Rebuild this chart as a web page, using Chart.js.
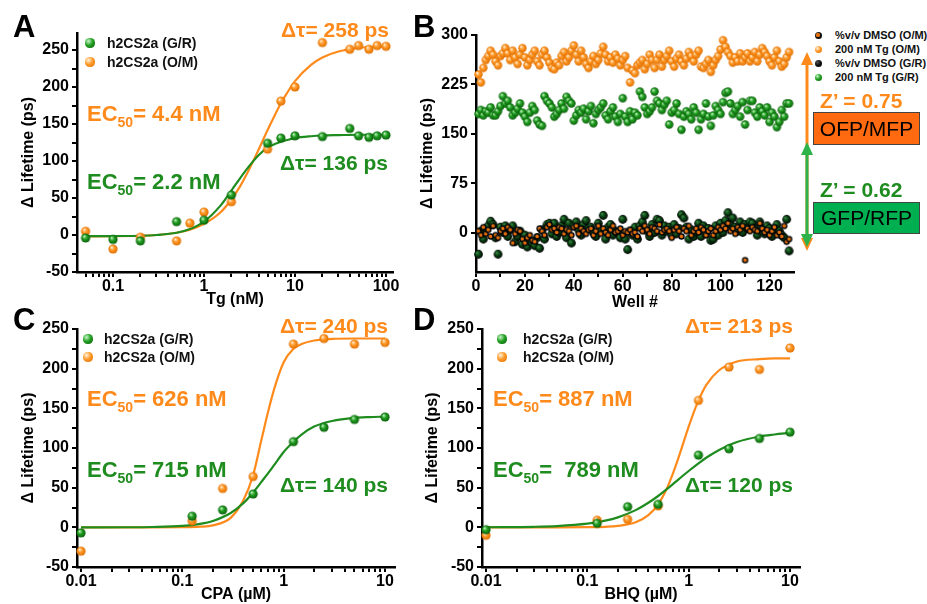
<!DOCTYPE html>
<html>
<head>
<meta charset="utf-8">
<script src="https://cdn.jsdelivr.net/npm/chart.js@4.4.1/dist/chart.umd.min.js"></script>
<style>
  body { margin: 0; background: #fff; }
  #page { position: relative; width: 927px; height: 604px; overflow: hidden; font-family: "Liberation Sans", Arial, sans-serif; }
  canvas { position: absolute; }
  .t { position: absolute; white-space: nowrap; line-height: 1; font-weight: bold; }
  .t sub { font-size: 14px; line-height: 0; vertical-align: -6px; }
  .big { font-size: 31px; color: #000; }
  .ann { font-size: 21px; }
  .ec { font-size: 22px; }
  .leg { font-size: 14px; color: #111; }
  .bleg { font-size: 11px; color: #111; }
  .dot { position: absolute; border-radius: 50%; }
  .box { position: absolute; border: 1.5px solid #444; font-size: 21px; color: #000; text-align: center; }
</style>
</head>
<body>
<div id="page">
  <canvas id="cA" width="410" height="312" style="left:0;top:0"></canvas>
  <canvas id="cB" width="400" height="313" style="left:410px;top:0"></canvas>
  <canvas id="cC" width="410" height="304" style="left:0;top:300px"></canvas>
  <canvas id="cD" width="400" height="304" style="left:420px;top:300px"></canvas>
  <div id="notes"></div>
</div>
<script>
// ---- panel A: Tg dose response (nM)
const tgConcG = [0.05, 0.1, 0.2, 0.5, 1, 2, 5, 7, 10, 20, 40, 50, 65, 80, 100];
const tgLifeG = [-4, -6, -8, 18, 20, 54, 124, 131, 134, 133, 144, 134, 132, 134, 135];
const tgConcO = [0.05, 0.1, 0.2, 0.5, 0.7, 1, 2, 5, 7, 10, 20, 40, 50, 65, 80, 100];
const tgLifeO = [5, -19, -3, -8, 16, 31, 45, 116, 181, 200, 260, 251, 256, 251, 256, 255];
const tgFitX = [0.05, 0.1, 0.2, 0.3, 0.5, 0.7, 1, 1.5, 2, 2.5, 3, 4, 5, 6, 7, 8, 10, 15, 20, 30, 50, 70, 100];
const tgFitG = [-1.5, -1.4, -1, 0, 3, 8, 18, 39, 60, 77, 90, 108, 118, 123, 126, 128, 131, 133.5, 134.5, 135, 135.5, 135.5, 135.5];
const tgFitO = [-2, -1.7, -1, 0, 3, 7, 15, 30, 48, 66, 84, 116, 142, 162, 178, 190, 208, 230, 240, 248, 253, 254, 255];
const tgTicks = [0.1, 1, 10, 100];

// ---- panel B: 128-well plate
const tgOM = [240,228,250,262,268,276,270,260,254,268,
  272,280,272,262,276,266,256,270,280,266,
  254,262,270,276,260,254,270,276,266,258,
  250,248,258,254,268,274,260,266,276,284,
  270,260,276,266,256,250,260,268,256,262,
  272,282,270,260,266,258,270,264,254,262,
  268,250,228,246,242,254,258,262,248,256,
  270,262,250,262,270,252,262,268,276,260,
  252,264,270,260,254,264,274,268,260,270,
  276,252,250,256,262,244,254,262,268,278,
  292,282,274,268,258,266,260,272,260,266,
  272,260,266,274,260,270,280,274,268,260,
  254,266,276,260,252,256,266,274];
const tgGR = [180,186,178,184,182,190,178,178,184,192,207,196,200,190,178,182,
  188,196,182,176,168,182,192,186,170,164,162,207,200,196,190,176,
  180,186,196,188,206,200,196,170,178,186,182,188,172,184,192,166,
  180,186,190,196,178,172,184,190,176,168,180,204,176,168,184,172,
  182,178,214,206,190,180,184,190,214,200,196,186,194,200,164,182,
  186,196,180,156,176,184,180,172,190,182,156,172,180,196,176,162,
  178,192,186,180,198,212,214,196,180,186,192,176,198,164,186,200,
  200,182,176,190,184,178,190,168,182,176,160,168,186,176,196,196];
const dmsoGR = [-33,2,-10,6,10,17,12,-8,-33,8,0,10,-6,4,10,-14,
  -6,2,-18,-4,-22,-12,-16,-20,-8,-24,4,-10,12,14,-2,14,
  -6,0,10,20,-8,14,-16,10,16,4,-4,12,18,6,8,0,
  -6,14,4,26,-10,8,12,-4,2,0,-8,20,-10,-26,2,-4,
  8,-10,10,16,26,2,-6,12,0,20,18,-4,10,2,8,-4,
  12,-2,6,27,22,8,-10,4,-6,0,14,-6,10,-2,6,-12,
  -10,10,-4,14,0,18,30,12,22,8,2,16,0,12,6,16,
  14,6,-4,16,6,-2,10,6,-6,4,12,2,-4,-8,20,-28];
const dmsoOM = [2,-4,8,-2,4,-6,10,-4,-8,2,6,-2,8,4,-16,-2,
  4,2,-10,-16,-8,-4,-12,-14,-6,6,2,-4,8,12,4,6,
  0,8,6,-2,4,2,-4,8,10,-2,6,2,-2,4,6,-4,
  2,10,-2,6,0,-4,4,10,0,2,6,-4,2,0,4,-2,
  0,-6,6,2,10,4,-2,8,6,2,12,0,4,6,2,-8,
  4,8,2,-6,6,2,10,-4,2,6,0,8,4,-4,2,6,
  -4,2,8,4,10,6,14,2,6,-2,8,4,10,-42,6,2,
  8,4,2,14,6,0,4,-4,2,8,-4,0,-6,10,-14,-10];
const wells = tgOM.map((_, i) => i + 1);
const wellTicks = [0, 20, 40, 60, 80, 100, 120];
const plateTicks = [0, 75, 150, 225, 300];

// ---- panel C: CPA (uM)
const cpaConc = [0.01, 0.125, 0.25, 0.5, 1.25, 2.5, 5, 10];
const cpaLifeG = [-7, 14, 22, 42, 108, 126, 136, 139];
const cpaLifeO = [-30, 8, 49, 64, 231, 238, 231, 233];
const cpaFitX = [0.01, 0.03, 0.05, 0.1, 0.15, 0.2, 0.3, 0.4, 0.5, 0.6, 0.7, 0.8, 1, 1.25, 1.5, 2, 3, 5, 7, 10];
const cpaFitG = [0, 0.1, 0.4, 1.8, 4.4, 8, 18, 30.5, 44, 57, 68, 78, 95, 108, 117, 127, 134, 138, 139, 139.6];
const cpaFitO = [0, 0, 0, 0.15, 0.8, 2.5, 12, 34, 66, 109, 145, 173, 208, 225, 231, 235.5, 237.5, 238, 238, 238];

// ---- panel D: BHQ (uM)
const bhqConc = [0.01, 0.125, 0.25, 0.5, 1.25, 2.5, 5, 10];
const bhqLifeG = [-3, 5, 26, 29, 91, 99, 112, 120];
const bhqLifeO = [-10, 9, 10, 27, 160, 202, 199, 226];
const bhqFitX = [0.01, 0.03, 0.05, 0.1, 0.15, 0.2, 0.3, 0.4, 0.5, 0.6, 0.7, 0.8, 1, 1.25, 1.5, 2, 3, 5, 7, 10];
const bhqFitG = [0.1, 0.7, 1.6, 4.6, 8.4, 12.6, 21.7, 31, 39.5, 47.4, 54.4, 60.7, 71, 80.6, 88, 97.5, 107.5, 114.5, 117, 119];
const bhqFitO = [0, 0, 0, 0.2, 0.7, 1.8, 6.4, 15.4, 29, 47, 68, 89, 127, 160, 180, 198, 209, 212, 213, 213];
const uMTicks = [0.01, 0.1, 1, 10];
const lifeTicks = [-50, 0, 50, 100, 150, 200, 250];

const ORANGE = '#ff8a1c';
const GREEN = '#1e8c1e';
const FONT = '"Liberation Sans", Arial, sans-serif';
const bold = size => ({ family: FONT, size, weight: 'bold' });

function ball(r, light, mid, dark) {
  const c = document.createElement('canvas');
  const s = Math.ceil(2 * r + 2);
  c.width = c.height = s;
  const g = c.getContext('2d');
  const m = s / 2;
  const grad = g.createRadialGradient(m - r * 0.35, m - r * 0.4, r * 0.05, m, m, r);
  grad.addColorStop(0, light);
  grad.addColorStop(0.45, mid);
  grad.addColorStop(1, dark);
  g.fillStyle = grad;
  g.beginPath(); g.arc(m, m, r, 0, Math.PI * 2); g.fill();
  return c;
}
function ringBall(r) {
  const c = ball(r, '#555', '#111', '#000');
  const g = c.getContext('2d');
  g.fillStyle = '#e8700c';
  g.beginPath(); g.arc(c.width / 2, c.width / 2, r * 0.55, 0, Math.PI * 2); g.fill();
  return c;
}
const orangeBig = ball(4.6, '#fff2dd', '#ff9a2a', '#e06f00');
const greenBig = ball(4.6, '#c8f5c8', '#22a022', '#0b5f0b');
const orangeSm = ball(4.2, '#fff2dd', '#ff9a2a', '#e06f00');
const greenSm = ball(4.2, '#c8f5c8', '#22a022', '#0b5f0b');
const darkSm = ball(4.4, '#3f8a48', '#0c4a16', '#000');
const ringSm = ringBall(3.2);

const xy = (xs, ys) => xs.map((x, i) => ({ x, y: ys[i] }));
const pts = (xs, ys, sprite) => ({ data: xy(xs, ys), pointStyle: sprite, pointRadius: 5, clip: false });
const curve = (xs, ys, color) => ({ data: xy(xs, ys), showLine: true, pointRadius: 0, borderColor: color, borderWidth: 2.2, cubicInterpolationMode: 'monotone', clip: false });

function minorTicks(min, max, majors) {
  const out = [];
  [majors[0] / 10].concat(majors).forEach(d => {
    for (let m = 1; m < 10; m++) {
      const v = d * m;
      if (v >= min && v <= max) out.push(v);
    }
  });
  return out;
}
const gridOpts = { drawOnChartArea: false, tickLength: 5, color: '#000', lineWidth: 2 };
const borderOpts = { color: '#000', width: 2.5 };

function logX(min, max, majors, title, h, tpad) {
  const all = minorTicks(min, max, majors);
  return {
    type: 'logarithmic', min, max,
    afterBuildTicks: s => { s.ticks = all.map(v => ({ value: v })); },
    afterFit: s => { s.height = h; s.paddingLeft = 0; s.paddingRight = 0; },
    ticks: { callback: v => majors.includes(v) ? String(v) : '', font: bold(16), color: '#000', padding: 0, maxRotation: 0, autoSkip: false },
    grid: gridOpts, border: borderOpts,
    title: { display: true, text: title, font: bold(16), color: '#000', padding: { top: 0, bottom: tpad } }
  };
}
function linX(min, max, ticks, labels, title, h, tpad) {
  return {
    type: 'linear', min, max,
    afterBuildTicks: s => { s.ticks = ticks.map(v => ({ value: v })); },
    afterFit: s => { s.height = h; s.paddingLeft = 0; s.paddingRight = 0; },
    ticks: { callback: v => labels.includes(v) ? String(v) : '', font: bold(16), color: '#000', padding: 0, maxRotation: 0, autoSkip: false },
    grid: gridOpts, border: borderOpts,
    title: { display: true, text: title, font: bold(16), color: '#000', padding: { top: 0, bottom: tpad } }
  };
}
function linY(min, max, ticks, labels, w, tpad) {
  return {
    type: 'linear', min, max,
    afterBuildTicks: s => { s.ticks = ticks.map(v => ({ value: v })); },
    afterFit: s => { s.width = w; s.paddingTop = 0; s.paddingBottom = 0; },
    ticks: { callback: v => labels.includes(v) ? String(v) : '', font: bold(16), color: '#000', padding: 3, autoSkip: false },
    grid: gridOpts, border: borderOpts,
    title: { display: true, text: '\u0394 Lifetime (ps)', font: bold(16), color: '#000', padding: { top: tpad, bottom: 0 } }
  };
}
function panel(id, x, y, datasets, padding) {
  return new Chart(document.getElementById(id), {
    type: 'scatter',
    data: { datasets },
    options: {
      responsive: false, animation: false, devicePixelRatio: 1,
      layout: { padding },
      plugins: { legend: { display: false }, tooltip: { enabled: false } },
      scales: { x, y }
    }
  });
}
const by25 = lifeTicks.flatMap(v => v < 250 ? [v, v + 25] : [v]);

panel('cA',
  logX(0.0402, 119.4, tgTicks, 'Tg (nM)', 40, 2.4),
  linY(-50, 273, by25, lifeTicks, 77, 19.4),
  [pts(tgConcG, tgLifeG, greenBig), pts(tgConcO, tgLifeO, orangeBig),
   curve(tgFitX, tgFitG, GREEN), curve(tgFitX, tgFitO, ORANGE)],
  { top: 33, right: 17, left: 0, bottom: 0 });

panel('cB',
  linX(0, 130, [0, 10, 20, 30, 40, 50, 60, 70, 80, 90, 100, 110, 120], wellTicks, 'Well #', 41, 0.4),
  linY(-60, 300, plateTicks, plateTicks, 66, 8.4),
  [pts(wells, dmsoOM, ringSm), pts(wells, dmsoGR, darkSm), pts(wells, tgGR, greenSm), pts(wells, tgOM, orangeSm)],
  { top: 35, right: 16, left: 0, bottom: 0 });

panel('cC',
  logX(0.00913, 12.55, uMTicks, 'CPA (\u00b5M)', 37, 0),
  linY(-50, 250, by25, lifeTicks, 77, 19.4),
  [pts(cpaConc, cpaLifeG, greenBig), pts(cpaConc, cpaLifeO, orangeBig),
   curve(cpaFitX, cpaFitG, GREEN), curve(cpaFitX, cpaFitO, ORANGE)],
  { top: 29, right: 15, left: 0, bottom: 0 });

panel('cD',
  logX(0.00913, 12.55, uMTicks, 'BHQ (\u00b5M)', 37, 0),
  linY(-50, 250, by25, lifeTicks, 62, 3.4),
  [pts(bhqConc, bhqLifeG, greenBig), pts(bhqConc, bhqLifeO, orangeBig),
   curve(bhqFitX, bhqFitG, GREEN), curve(bhqFitX, bhqFitO, ORANGE)],
  { top: 29, right: 20, left: 0, bottom: 0 });

// ---- text, legends, arrows
const sphereCss = (c1, c2, c3) => `background: radial-gradient(circle at 35% 32%, ${c1} 0%, ${c2} 45%, ${c3} 100%);`;
const CSS_O = sphereCss('#fff2dd', '#ff9a2a', '#e06f00');
const CSS_G = sphereCss('#c8f5c8', '#22a022', '#0b5f0b');
const CSS_K = sphereCss('#555', '#111', '#000');
let html = '';
const text = (cls, x, y, color, s) => { html += `<div class="t ${cls}" style="left:${x}px;top:${y}px;color:${color}">${s}</div>`; };
const dot = (cx, cy, r, css, inner) => {
  html += `<div class="dot" style="left:${cx - r}px;top:${cy - r}px;width:${2 * r}px;height:${2 * r}px;${css}"></div>`;
  if (inner) html += `<div class="dot" style="left:${cx - r * 0.45}px;top:${cy - r * 0.45}px;width:${r * 0.9}px;height:${r * 0.9}px;background:${inner}"></div>`;
};

text('big', 13, 10.8, '#000', 'A');
text('big', 413, 10.8, '#000', 'B');
text('big', 13, 303.8, '#000', 'C');
text('big', 413, 303.8, '#000', 'D');

function legend(dx, tx, y1, y2) {
  dot(dx, y1, 4.6, CSS_G); text('leg', tx, y1 - 6.8, '#111', 'h2CS2a (G/R)');
  dot(dx, y2, 4.6, CSS_O); text('leg', tx, y2 - 6.8, '#111', 'h2CS2a (O/M)');
}
legend(90, 107, 43, 62);
legend(88, 104, 339, 357);
legend(502, 523, 339, 357);

text('ann', 281, 19.2, ORANGE, '\u0394\u03c4= 258 ps');
text('ec', 87, 103.4, ORANGE, 'EC<sub>50</sub>= 4.4 nM');
text('ann', 280, 152.2, GREEN, '\u0394\u03c4= 136 ps');
text('ec', 87, 171.4, GREEN, 'EC<sub>50</sub>= 2.2 nM');

text('ann', 280, 315.2, ORANGE, '\u0394\u03c4= 240 ps');
text('ec', 87, 388.4, ORANGE, 'EC<sub>50</sub>= 626 nM');
text('ec', 87, 459.4, GREEN, 'EC<sub>50</sub>= 715 nM');
text('ann', 280, 474.2, GREEN, '\u0394\u03c4= 140 ps');

text('ann', 685, 315.2, ORANGE, '\u0394\u03c4= 213 ps');
text('ec', 493, 388.4, ORANGE, 'EC<sub>50</sub>= 887 nM');
text('ec', 493, 459.4, GREEN, 'EC<sub>50</sub>=&nbsp; 789 nM');
text('ann', 685, 474.2, GREEN, '\u0394\u03c4= 120 ps');

// panel B legend
const bRows = [
  ['%v/v DMSO (O/M)', CSS_K, '#e8700c'],
  ['200 nM Tg (O/M)', CSS_O, null],
  ['%v/v DMSO (G/R)', CSS_K, null],
  ['200 nM Tg (G/R)', CSS_G, null]
];
bRows.forEach((r, i) => {
  const cy = 35 + i * 14;
  dot(818, cy, 3.5, r[1], r[2]);
  text('bleg', 835, cy - 5.4, '#111', r[0]);
});

html += `<svg style="position:absolute;left:0;top:0" width="927" height="604">
  <line x1="807" y1="62" x2="807" y2="240" stroke="${ORANGE}" stroke-width="3"/>
  <polygon points="807,52 801,65 813,65" fill="${ORANGE}"/>
  <polygon points="807,251 801,238 813,238" fill="${ORANGE}"/>
  <line x1="807" y1="152" x2="807" y2="238" stroke="#2db34a" stroke-width="3"/>
  <polygon points="807,142 801,155 813,155" fill="#2db34a"/>
  <polygon points="807,247 801,234 813,234" fill="#2db34a"/>
</svg>`;
text('ann', 820, 90, ORANGE, 'Z\u2019 = 0.75');
text('ann', 820, 179, GREEN, 'Z\u2019 = 0.62');
html += `<div class="box" style="left:813px;top:112px;width:105px;height:31px;line-height:31px;background:#ff6a10">OFP/MFP</div>`;
html += `<div class="box" style="left:813px;top:202px;width:105px;height:30px;line-height:30px;background:#00b050">GFP/RFP</div>`;

document.getElementById('notes').innerHTML = html;
</script>
</body>
</html>
